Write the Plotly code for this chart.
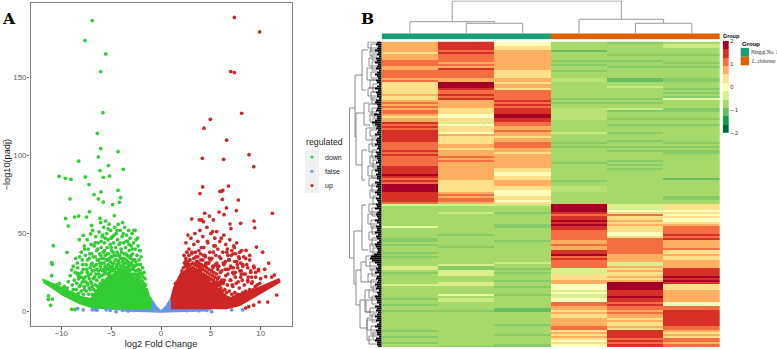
import plotly.graph_objects as go

W, H = 777, 349

# ---------- Panel A data: isolated points
down_x = [-6.89,-7.63,-5.55,-6.05,-5.82,-6.39,-6.05,-4.31,-6.29,-8.26,-5.28,-6.12,-3.78,-10.23,-9.6,-9.03,-7.59,-5.79,-5.15,-7.22,-4.31,-6.02,-6.72,-4.05,-9.13,-6.29,-5.79,-4.85,-4.18,-7.16,-4.68,-9.57,-8.66,-8.26,-7.46,-6.12,-9.3,-6.96,-8.19,-7.06,-10.8,-9.43,-7.79,-10.97,-10.9,-8.96,-10.97,-11.3,-11.3,-10.9,-11.07,-8.96,-8.63,-8.46,-8.3,
 -8.4,-8.2,-8.0,-7.9,-7.8,-7.7,-7.6,-7.5,-7.4,-7.3,-7.2,-7.1,-7.0,-6.95,-6.9,-6.85,-6.8,-6.7,-6.6,-6.55,-6.5,-6.45,-6.4,-6.3,-6.25,-6.2,-6.15,-6.1,-6.05,-6,-5.95,-5.9,-5.85,-5.8,-5.75,-5.7,-5.65,-5.6,-5.55,-5.5,-5.45,-5.4,-5.35,-5.3,-5.25,-5.2,-5.15,-5.1,-5.05,-5,-4.95,-4.9,-4.85,-4.8,-4.75,-4.7,-4.65,-4.6,-4.55,-4.5,-4.45,-4.4,-4.35,-4.3,-4.25,-4.2,-4.15,-4.1,-4.05,-4,-3.95,-3.9,-3.85,-3.8,-3.75,-3.7,-3.65,-3.6,-3.55,-3.5,-3.45,-3.4,-3.35,-3.3,-3.25,-3.2,-3.15,-3.1,-3.05,-3,-2.95,-2.9,-2.85,-2.8,-2.75,-2.7,-2.65,-2.6,-2.55,-2.5,-2.45,-2.4,-2.3,-2.25,-2.2,-2.15,-2.1,-2.05,-2,-1.9,-1.85,-1.8,-1.7,-1.6,
 -10.5,-10.2,-9.7,-9.4,-8.8,-9.0,-8.3,-8.0,-7.8,-7.4,-7.2,-6.9,-7.7]
down_y = [186.7,173.9,165.3,154,127.6,114.3,104.5,102.6,99.1,96.4,93.6,90.4,91.2,86.7,85.4,84.8,86.3,86.1,86.9,81.4,77.7,76.7,74.9,73,72.2,72.2,70.2,68.5,70,64,61.5,59.7,60.6,61.2,60.6,59.7,54.8,55.2,46,49.7,42.2,37.9,48.8,31.3,30.2,26.6,22.9,9.9,7.7,7.9,3.9,1.3,1.3,24.4,24.2,
 31,24,38,33,27,42,36,30,46,40,34,28,43,37,31,52,26,42,35,48,30,39,27,44,33,51,37,29,57,41,34,48,26,38,54,31,44,36,58,28,50,41,33,46,37,56,29,43,52,35,39,31,48,27,44,36,54,33,41,50,29,38,46,56,32,43,36,52,27,40,34,48,57,30,44,37,54,28,41,33,49,36,45,30,52,39,27,47,34,42,31,50,37,28,44,52,33,40,26,46,30,36,42,27,33,39,25,30,35,24,28,22,25,21,
 17,18,16,15,14,12,23,22,19,18,15,16,14]
down_x2 = [-8.7,-8.5,-8.3,-8.2,-8.0,-7.9,-7.8,-7.7,-7.6,-7.5,-7.4,-7.35,-7.25,-7.2,-7.1,-7.05,-6.95,-6.9,-6.8,-6.75,-6.7,-6.6,-6.55,-6.5,-6.45,-6.4,-6.35,-6.3,-6.2,-6.15,-6.1,-6.05,-6,-5.95,-5.9,-5.85,-5.8,-5.75,-5.7,-5.65,-5.6,-5.55,-5.5,-5.45,-5.4,-5.35,-5.3,-5.25,-5.2,-5.15,-5.1,-5.05,-5,-4.95,-4.9,-4.85,-4.8,-4.75,-4.7,-4.65,-4.6,-4.55,-4.5,-4.45,-4.4,-4.35,-4.3,-4.25,-4.2,-4.15,-4.1,-4.05,-4,-3.95,-3.9,-3.85,-3.8,-3.75,-3.7,-3.65,-3.6,-3.55,-3.5,-3.45,-3.4,-3.35,-3.3,-3.25,-3.2,-3.15,-3.1,-3.05,-3,-2.95,-2.9,-2.85,-2.8,-2.75,-2.7,-2.65,-2.6,-2.55,-2.5,-2.45,-2.4,-2.35,-2.3,-2.25,-2.15,-2.1,-2,-1.95,-1.85,-1.75,-1.65,-1.55,-1.45,-1.35]
down_y2 = [11,14,11.5,16,13,19,11,16,22,13,25,17,11,21,14,24,18,11,21,14,29,17,24,13,20,33,16,26,22,31,18,36,27,23,31,20,34,27,24,39,29,25,33,27,37,24,30,27,34,25,32,28,41,26,35,29,38,26,31,27,36,25,33,28,30,25,36,27,31,26,34,29,25,38,27,32,25,29,34,26,31,25,37,28,26,32,25,35,29,26,31,24,36,27,30,24,33,27,22,29,24,32,21,26,23,30,21,24,22,26,20,24,19,18,16,17,14,12]
down_x3 = [-9.3,-9.1,-8.9,-8.8,-8.7,-8.6,-8.55,-8.45,-8.35,-8.25,-8.15,-8.05,-7.95,-7.85,-7.75,-7.65,-7.55,-7.45,-7.35,-7.3,-7.15,-7.05,-7,-6.9,-6.8,-6.65,-6.6,-6.5,-6.35,-6.25,-6,-5.85,-5.6,-5.3,-5,-4.7,-4.4,-4.1,-3.8,-3.5,-3.2,-2.9,-2.6,-2.35,-2.1]
down_y3 = [19,23,17,29,20,25,34,18,28,21,35,17,25,30,21,40,19,27,33,23,37,19,30,26,35,22,44,27,40,24,45,49,47,53,47,49,52,44,50,45,43,40,52,47,39]
up_x = [7.36,9.9,6.99,7.36,8.09,4.95,4.31,6.59,8.83,4.15,6.29,9.3,4.18,6.76,5.92,6.09,6.19,3.91,6.15,7.76,6.56,7.56,11.17,4.38,5.82,6.32,4.85,3.08,3.85,4.08,9.33,5.25,4.25,7.99,6.92,9.4,7.02,5.59,5.18,9.57,8.53,11.6,10.7,11.37,10.5,9.77,8.5,9.6,9.85,9.3,8.8,
 2.3,2.5,2.6,2.7,2.8,2.9,3.0,3.1,3.2,3.3,3.4,3.5,3.6,3.7,3.8,3.9,4.0,4.1,4.2,4.3,4.4,4.5,4.6,4.7,4.8,4.9,5.0,5.1,5.2,5.3,5.4,5.5,5.6,5.7,5.8,5.9,6.0,6.1,6.2,6.3,6.4,6.5,6.6,6.7,6.8,6.9,7.0,7.1,7.2,7.3,7.4,7.5,7.6,7.7,7.8,7.9,8.0,8.1,8.2,8.3,8.5,8.7,8.9,9.1,9.3,9.5,
 2.45,2.65,2.85,3.05,3.25,3.45,3.65,3.85,4.05,4.25,4.45,4.65,4.85,5.05,5.25,5.45,5.65,5.85,6.05,6.25,6.45,6.65,6.85,7.05,7.25,7.45,7.65,7.85,8.05,
 10.2,10.4,10.8,11.1,9.0,8.2,8.7]
up_y = [188.7,179.4,154,153.3,127.2,123.3,117.6,109.9,100.6,98.3,97.6,92.9,79.9,80.5,77.1,77.1,77.7,75.6,71.9,71.5,66.4,64.7,63,63,63.8,62.1,61.2,59.3,58.7,58.7,58,58.7,57.6,56.5,56.1,53.7,53.1,51.2,51.2,41.3,39.2,10.5,6,23.3,22.3,27,2.1,11.6,6,4,3,
 36,44,30,49,40,33,47,38,28,43,50,35,31,45,39,52,33,27,48,41,36,29,54,44,31,38,50,34,28,42,47,36,31,40,29,45,34,26,38,49,31,43,27,36,33,46,29,39,25,42,32,37,44,28,35,26,31,39,30,24,34,28,36,22,29,25,32,27,30,23,26,21,
 32,27,41,36,30,45,34,26,38,42,29,35,47,31,27,40,33,28,37,25,30,34,24,38,27,31,22,26,29,
 19,18,17,16,9,7,5]
up_x2 = [1.45,1.5,1.6,1.65,1.75,1.8,1.85,1.95,2.0,2.05,2.1,2.15,2.2,2.25,2.3,2.35,2.4,2.45,2.5,2.55,2.6,2.65,2.7,2.75,2.8,2.85,2.9,2.95,3,3.05,3.1,3.15,3.2,3.25,3.3,3.35,3.4,3.45,3.5,3.55,3.6,3.65,3.7,3.75,3.8,3.85,3.9,3.95,4,4.05,4.1,4.15,4.2,4.25,4.3,4.35,4.4,4.45,4.5,4.55,4.6,4.65,4.7,4.75,4.8,4.85,4.9,4.95,5,5.05,5.1,5.15,5.2,5.25,5.3,5.35,5.4,5.45,5.5,5.55,5.6,5.65,5.7,5.75,5.8,5.85,5.9,5.95,6,6.1,6.15,6.25,6.3,6.4,6.5,6.55,6.65,6.75,6.85,7,7.1,7.2,7.3,7.4,7.55,7.7,7.85,8,8.2,8.35,8.5,8.7,8.9,9.1,9.25,9.45,9.7,9.9,10.1,10.35]
up_y2 = [17,20,23,19,26,21,24,28,23,31,25,29,34,26,38,29,32,26,36,28,33,25,30,27,37,26,31,28,34,26,30,38,27,32,25,29,35,26,31,24,28,37,25,30,23,27,33,24,29,22,26,35,23,28,21,25,31,22,27,20,24,33,21,26,18,23,29,20,25,17,22,30,18,24,16,21,27,17,22,14,19,25,15,20,13,18,30,14,23,12,17,27,13,20,11,16,24,12,18,11,15,22,12,17,13,20,14,18,14,16,12,18,15,16,19,14,17,18,19,20]
up_x3 = [5.6,5.75,5.9,6.05,6.2,6.35,6.45,6.6,6.7,6.8,6.95,7.05,7.15,7.25,7.35,7.45,7.6,7.75,7.9,8.05,8.15,8.3,8.45,8.6,8.75,8.9,9.0,9.15,9.35,9.5,9.65,9.8,10.0,4.5,4.2,3.9,5.3,2.05,1.9]
up_y3 = [32,38,24,33,20,36,17,28,41,22,32,19,38,26,20,35,24,30,22,33,25,19,28,22,17,26,21,31,23,29,19,24,22,38,42,46,43,36,33]
false_x = [-8.36,-6.9,-6.6,-6.4,-5.5,-5.1,-4.5,-3.9,-3.3,-2.7,2.6,3.2,3.8,4.25,4.6,5.08,7.09,8.19,-7.8]
false_y = [1.7,1,1,0.8,1,0.6,-0.2,0.8,0.3,0.6,0.5,0.8,0.4,0.9,0.6,-0.2,1,1,1]

# ---------- Panel A data: outline of the solid mass of points
down_mass_x = [-11.9,-9.8,-8.1,-7.0,-6.5,-5.9,-5.2,-4.2,-3.2,-2.2,-1.5,-1.0,-1.0,-6.8,-8.1,-9.8,-11.8]
down_mass_y = [20.5,14.7,9.4,8,13,18,23,25,24,19,13,7.7,2,2.5,5,10.5,19]
up_mass_x = [1.0,1.3,1.8,2.5,3.5,4.5,5.5,6.5,7.0,7.6,9.3,11.8,11.9,9.6,7.9,6.6,1.0]
up_mass_y = [7.8,15,22,26,25,20,15,10,8.5,10.5,13.7,20.5,19,10.5,4,2,2]
false_mass_x = [-6.8,-1.0,-0.5,0,0.5,1.0,1.0,5.0,4.0,0,-4.0]
false_mass_y = [2,8,3,0,3,8,2,1.5,0.5,-0.3,0.5]

# ---------- Panel B data
group_names = ["Ningqi No. 1", "L. chinense"]
sample_group = [0, 0, 0, 1, 1, 1]
legend_levels = [-2, -1.6, -1.2, -0.8, -0.4, 0, 0.4, 0.8, 1.2, 1.6, 2]

col1 = ([0.8]*5+[0.4]+[0.8]*3+[1.2]*3+[0.8]*2+[1.2]*4+[0.8]+[1.2]+[0.4]*4+[0.4]*2+[0.8]+[0.4]*2+[0.8]+[1.2]+[0.8]+[1.2]+[0.8]+[1.2]*2+[0.8]+[0.4]
 +[0.8]*2+[1.6]+[1.2]+[1.6]+[1.2]+[1.6]*2+[1.6]*4+[1.2]*4+[1.6]+[1.2]+[1.6]+[1.2]*5+[1.6]*4+[2]+[1.6]+[1.2]+[1.6]+[1.2]+[2]*4+[1.6]*2
 +[1.6]*3+[1.2]+[-0.4]+[-0.8]*10+[-0.2]+[-0.8]*5+[-1.0]*2+[-0.8]+[-1.0]+[-0.8]*3+[-1.0]+[-0.8]+[-1.0]+[-0.8]*4+[-0.4]*2+[-0.8]
 +[-1.0]+[-0.8]*5+[-0.4]+[-0.8]*6+[-1.0]+[-0.8]*2+[-1.0]+[-0.8]*2+[-1.0]+[-0.8]*9+[-1.0]+[-0.8]*2+[-1.0]+[-0.8]*2+[-1.0]+[-0.8]*2)
col2 = ([1.6]*4+[1.2]+[1.6]+[1.2]*4+[0.8]+[1.2]+[0.8]+[1.6]+[1.2]+[1.2]*3+[0.8]*2+[2]*3+[1.6]+[1.2]*2+[1.6]+[1.2]+[1.6]+[0.8]*4+[0.4]*3+[0]*2
 +[0.4]*2+[-0.4]+[0]+[0.4]*3+[0]+[0.8]+[0.4]+[0.4]*3+[0.8]*2+[0.4]+[0.8]*3+[1.2]+[0.8]+[1.2]+[0.8]*9+[0.4]*6+[0.8]+[1.2]
 +[0.8]+[1.2]*2+[0.8]+[-0.4]+[-0.8]*3+[-0.5]+[-0.8]*10+[-1.0]+[-0.8]*5+[-1.0]+[-0.8]*8+[-0.4]+[-1.0]*2+[-0.4]
 +[-0.4]*2+[-0.8]*3+[-0.4]*2+[-0.8]*4+[-0.2]+[-0.8]+[-0.5]*2+[-0.8]*4+[-1.0]+[-0.8]*17+[-1.0])
col3 = ([0]*2+[0.4]*2+[0.8]+[0.8]*9+[0.4]*4+[0.8]*2+[0.4]+[0.8]*2+[0.4]+[1.2]*5+[1.6]+[1.2]+[1.6]+[1.2]+[1.6]*3+[2]*2
 +[1.6]*2+[1.2]*2+[0.8]*2+[1.2]+[0.8]+[0.8]+[0.4]+[0.8]*2+[1.2]*3+[0.8]*2+[0.4]+[0.8]*3+[0.8]*4+[0.4]*2+[0]*2+[0.4]*2+[0.8]*3+[0.4]*2+[0]*3
 +[0.4]*2+[0]+[0.4]+[-0.5]+[-0.8]*3+[-1.0]+[-0.8]*5+[-1.0]*2+[-0.8]*6+[-1.0]+[-0.8]*10+[-0.5]+[-0.8]*2+[-1.0]+[-0.8]
 +[-1.0]+[-0.8]*3+[-1.0]+[-0.8]*2+[-1.0]+[-0.8]*3+[-1.0]+[-0.8]*6+[-1.2]*2+[-0.8]*6+[-1.0]+[-0.8]*4+[-1.0]+[-0.8]*4+[-1.0]*2)
col4 = ([-0.8]*4+[-1.2]+[-0.8]*4+[-1.0]+[-0.8]+[-1.0]+[-0.8]*2+[-1.0]+[-0.8]*3+[-0.65]*2+[-0.8]*8+[-1.0]+[-0.8]+[-1.0]+[-0.8]*2+[-0.65]*5
 +[-0.65]+[-0.8]*6+[-0.5]+[-0.8]*4+[-1.0]+[-0.8]+[-1.0]+[-0.8]*7+[-1.0]+[-0.8]*8+[-1.0]+[-0.8]*2+[-0.65]*3+[-0.8]*2
 +[-0.8]*4+[2]*4+[1.6]+[1.2]+[1.6]*2+[2]+[1.6]+[2]+[1.6]*2+[1.2]*5+[0.8]*2+[1.2]+[0.8]*2+[1.6]*2+[2]+[1.2]+[1.6]+[1.2]*4+[-0.4]*2
 +[-0.4]+[0.4]*3+[0.8]*2+[0]*3+[-0.4]+[0]+[-0.4]*2+[0]*2+[1.2]*2+[0.8]*2+[0.4]+[0.8]+[0.4]*2+[0.8]+[0.8]*3+[1.2]*2+[0.4]+[0.8]+[0.4]+[0.8]+[0.4]+[0]+[0.4]+[0]*2)
col5 = ([-1.0]+[-0.8]*5+[-1.0]+[-0.8]*2+[-1.0]+[-0.8]*2+[-1.0]+[-0.8]*5+[-1.2]*2+[-0.8]*2+[-0.5]+[-0.8]*5+[-1.0]+[-0.8]+[-1.0]+[-0.8]*2+[-0.5]+[-1.0]+[-0.8]*3
 +[-1.0]+[-0.8]*2+[-1.0]+[-0.8]*3+[-1.0]+[-0.8]*3+[-1.0]+[-0.8]*2+[-1.0]+[-0.8]+[-1.0]+[-0.8]*4+[-1.0]+[-0.8]+[-1.0]+[-0.8]+[-1.0]+[-0.8]*13
 +[-0.8]*4+[-0.4]*3+[0]+[0.4]+[1.2]+[0.4]*2+[0.8]+[0.4]+[0.8]+[0.4]*3+[0]*2+[0.4]+[1.2]*8+[0.8]*4+[-0.4]*2+[0.8]+[0.4]+[0.8]
 +[0.4]*2+[0.8]+[0.4]+[0.8]+[2]*4+[1.6]*3+[2]+[1.6]*2+[1.2]+[1.6]+[1.2]*2+[0.8]+[1.2]+[0.8]*2+[0.4]+[0.8]+[0.4]*2+[0.8]+[0.4]+[1.6]*4+[1.2]+[1.6]+[1.2]+[1.6]*2)
col6 = ([-0.8]+[-0.5]*2+[-0.8]*3+[-1.0]+[-0.8]*3+[-1.0]+[-0.8]+[-1.0]+[-0.8]*5+[-1.0]*2+[-0.8]*3+[-1.0]+[-0.8]+[-1.0]+[-0.8]+[-1.0]+[-0.2]+[-0.8]*4+[-1.0]*2+[-0.8]*3
 +[-1.0]+[-0.8]*2+[-1.0]+[-0.8]*8+[-1.0]+[-0.8]+[-1.0]+[-0.8]+[-1.0]*2+[-0.8]*12+[-1.2]+[-0.8]*8
 +[-1.0]*2+[-0.8]*2+[0.4]*3+[0]+[0.4]+[0]+[0.4]+[0]*2+[0.4]+[0.8]+[1.2]*3+[1.2]+[1.6]+[1.2]+[1.6]+[0.8]*4+[1.2]+[0.4]*2+[0.8]+[0.4]*2+[0.8]*4+[1.6]*2
 +[1.6]*2+[2]+[1.6]+[2]+[1.6]+[0.4]*3+[0.8]*6+[0]*2+[1.2]*2+[1.6]*2+[1.6]*6+[1.2]*2+[0.8]+[0.4]+[0.8]+[0.4]+[1.2]*2+[0.8]+[1.2]*2)

# column dendrogram: (left column, right column, merge height, left child height, right child height)
col_merges = [(1, 2, 30, 0, 0), (0, 1.5, 35, 0, 30), (4, 5, 30, 0, 0), (3, 4.5, 42, 0, 30), (0.75, 3.75, 97, 35, 42)]
# row dendrogram, main branches: (parent depth, top row, bottom row, top child depth, bottom child depth)
row_branches = [(349.5,108,258,355,354),(355,75,137,362,356),(362,50,90,368,366),(356,113,165,364,362),(364,103,125,369,370),(362,150,180,367,365),
 (354,231,284,362,356),(362,205,250,366,368),(356,270,305,361,360),(361,262,282,366,368),(360,300,328,365,367),(365,290,312,370,371),(367,318,340,371,372)]
# row dendrogram, small branches: (parent depth, top row, bottom row)
twig_d = [368,371,370,372,369,372,367,371,370,373,368,371,372,369,372,370,373,366,370,372,369,372,370,373,368,372,369,372,370,373,369,372,368,371,372,369,372,370,373,366,370,372,368,371,373,369,372,366,370,372,367,371,373,369]
twig_a = [42,44,50,54,58,62,68,72,80,84,88,92,98,104,108,114,118,128,130,138,144,150,156,160,166,170,178,184,190,196,204,208,214,220,226,232,238,244,248,256,262,268,274,280,286,290,296,300,308,314,320,326,332,336]
twig_b = [48,52,56,60,66,70,80,78,88,92,96,100,104,112,116,122,126,140,136,146,152,158,164,168,176,178,186,192,198,204,212,216,224,228,234,240,246,252,256,266,270,276,282,288,292,298,304,312,316,322,330,334,340,344]
# depth where each of the 153 row leaves starts
leaf_depth = [377,376,378,377,375,378,377,379,376,377,375,378,377,376,379,377,375,377,378,376,377,379,377,375,378,376,377,377,379,376,375,377,378,377,376,379,374,377,377,375,
 372,375,377,376,378,377,375,379,377,376,377,375,378,377,379,376,377,375,377,378,376,379,377,377,375,378,376,377,377,379,375,377,376,378,377,375,377,379,376,377,
 378,376,377,375,379,377,376,377,378,375,377,379,376,377,377,375,378,376,377,379,377,375,376,377,378,377,374,371,370,372,375,377,378,376,377,375,379,377,376,378,
 377,375,377,376,379,377,378,375,376,377,377,379,375,377,376,378,377,375,377,376,379,377,375,378,376,377,377,379,376,375,377,377,378]

# ---------- Colours
colors = ["#006837","#1a9850","#66bd63","#a6d96a","#d9ef8b","#ffffbf","#fee08b","#fdae61","#f46d43","#d73027","#a50026"]
smooth_scale = [[i/10, c] for i, c in enumerate(colors)]
GREEN, BLUE, RED = "#32CD32", "#6495ED", "#CD2626"
TEAL, ORANGE = "#1b9e77", "#e06000"

def dx(a, b): return [a/W, b/W]
def dy(top, bottom): return [1-bottom/H, 1-top/H]
def pad(col): return (col + [col[-1]]*153)[:153]

fig = go.Figure()

# ---------- Panel A
def mass(x, y, c, name):
    fig.add_trace(go.Scatter(x=x, y=y, mode="lines", fill="toself", fillcolor=c, line=dict(color=c, width=2), name=name,
                             showlegend=False, hoverinfo="skip", xaxis="x", yaxis="y"))
def pts(x, y, c, name):
    fig.add_trace(go.Scatter(x=x, y=y, mode="markers", marker=dict(color=c, size=3.7, line=dict(width=0)), name=name,
                             showlegend=False, xaxis="x", yaxis="y"))
mass(false_mass_x, false_mass_y, BLUE, "false")
pts(false_x, false_y, BLUE, "false")
mass(down_mass_x, down_mass_y, GREEN, "down")
pts(down_x + down_x2 + down_x3, down_y + down_y2 + down_y3, GREEN, "down")
mass(up_mass_x, up_mass_y, RED, "up")
pts(up_x + up_x2 + up_x3, up_y + up_y2 + up_y3, RED, "up")

# ---------- Panel B heatmap
fig.add_trace(go.Heatmap(z=[list(r) for r in zip(pad(col1),pad(col2),pad(col3),pad(col4),pad(col5),pad(col6))],
    zmin=-2, zmax=2, colorscale=smooth_scale, showscale=False, xaxis="x2", yaxis="y2", hoverinfo="z"))
# annotation bar
fig.add_trace(go.Heatmap(z=[sample_group], zmin=0, zmax=1, colorscale=[[0,TEAL],[0.5,TEAL],[0.5,ORANGE],[1,ORANGE]],
    showscale=False, xaxis="x3", yaxis="y3", hoverinfo="skip"))
# stepped colour key
fig.add_trace(go.Heatmap(z=[[v] for v in legend_levels], x=[0], y=[-2 + (i + 0.5)*4/11 for i in range(11)], zmin=-2, zmax=2,
    colorscale=smooth_scale, showscale=False, xaxis="x6", yaxis="y6", hoverinfo="z"))
# column dendrogram
xs, ys = [], []
for l, r, h, hl, hr in col_merges:
    xs += [l, l, r, r, None]; ys += [hl, h, h, hr, None]
fig.add_trace(go.Scatter(x=xs, y=ys, mode="lines", line=dict(color="#9a9a9a", width=1), showlegend=False, hoverinfo="skip", xaxis="x4", yaxis="y4"))
# row dendrogram
xs, ys = [], []
for p, a, b, ca, cb in row_branches:
    xs += [ca, p, p, cb, None]; ys += [a, a, b, b, None]
for p, a, b in zip(twig_d, twig_a, twig_b):
    xs += [377, p, p, 377, None]; ys += [a, a, b, b, None]
fig.add_trace(go.Scatter(x=xs, y=ys, mode="lines", line=dict(color="#707070", width=0.8), showlegend=False, hoverinfo="skip", xaxis="x5", yaxis="y5"))
xs, ys = [], []
for i, d in enumerate(leaf_depth):
    y = 42.5 + 2*i
    xs += [d, 381.7, None]; ys += [y, y, None]
fig.add_trace(go.Scatter(x=xs, y=ys, mode="lines", line=dict(color="#000000", width=2.1), showlegend=False, hoverinfo="skip", xaxis="x5", yaxis="y5"))

# ---------- Layout helpers
TXT = "Liberation Sans"
ann = []
def text(x, y, s, size, color="#000000", family=TXT, anchor="left"):
    ann.append(dict(xref="paper", yref="paper", x=x/W, y=1-y/H, text=s, showarrow=False, xanchor=anchor, yanchor="middle",
                    font=dict(family=family, size=size, color=color), borderpad=0))
shapes = []
def rect(x0, y0, x1, y1, c):
    shapes.append(dict(type="rect", xref="paper", yref="paper", x0=x0/W, x1=x1/W, y0=1-y0/H, y1=1-y1/H, fillcolor=c, line=dict(width=0), layer="below"))
def dot(cx, cy, c):
    shapes.append(dict(type="circle", xref="paper", yref="paper", x0=(cx-1.6)/W, x1=(cx+1.6)/W, y0=1-(cy-1.6)/H, y1=1-(cy+1.6)/H, fillcolor=c, line=dict(width=0)))

text(0.5, 18.5, "<b>A</b>", 15.5, family="DejaVu Serif")
text(360, 18.5, "<b>B</b>", 15.5, family="DejaVu Serif")
text(305, 142, "regulated", 8.8, "#1a1a1a")
rect(305, 150, 319, 193, "#f0f0f0")
for cy, c, s in [(157, GREEN, "down"), (171.3, BLUE, "false"), (185.6, RED, "up")]:
    dot(312, cy, c)
    text(324, cy, s, 7, "#1a1a1a")
text(722, 35.5, "<b>Group</b>", 5.4)
text(740.7, 43.7, "<b>Group</b>", 6)
rect(740.7, 48, 749, 56.7, TEAL)
rect(740.7, 56.7, 749, 65.3, ORANGE)
text(750, 52.3, group_names[0], 5.2, "#222222", family="Liberation Serif")
text(750, 61, "<i>" + group_names[1] + "</i>", 5.2, "#222222", family="Liberation Serif")

hidden = dict(visible=False, showgrid=False, zeroline=False)
axis_a = dict(showline=True, mirror=True, linecolor="#808080", linewidth=1.2, ticks="outside", ticklen=2.5, tickwidth=0.8, tickcolor="#5a5a5a",
              showgrid=False, zeroline=False, tickfont=dict(family=TXT, size=7.8, color="#5a5a5a"), automargin=False)
fig.update_layout(
    width=W, height=H, margin=dict(l=0, r=0, t=0, b=0), autosize=False, paper_bgcolor="white", plot_bgcolor="white", showlegend=False,
    xaxis=dict(axis_a, domain=dx(30.5, 291.5), range=[-13.09, 13.09], tickvals=[-10,-5,0,5,10], ticklabelstandoff=-3,
               title=dict(text="log2 Fold Change", standoff=5, font=dict(family=TXT, size=9.2, color="#1a1a1a"))),
    yaxis=dict(axis_a, domain=dy(3.3, 326), range=[-9.4, 197.8], tickvals=[0,50,100,150], ticklabelstandoff=-1,
               title=dict(text="−log10(padj)", standoff=1, font=dict(family=TXT, size=9.2, color="#1a1a1a"))),
    xaxis2=dict(hidden, domain=dx(381.7, 720), range=[-0.5, 5.5]),
    yaxis2=dict(hidden, domain=dy(41.5, 347), range=[152.5, -0.5]),
    xaxis3=dict(hidden, domain=dx(381.7, 720), range=[-0.5, 5.5]),
    yaxis3=dict(hidden, domain=dy(33.3, 39.5), range=[-0.5, 0.5]),
    xaxis4=dict(hidden, domain=dx(381.7, 720), range=[-0.5, 5.5]),
    yaxis4=dict(hidden, domain=dy(0.5, 33.3), range=[0, 98.5]),
    xaxis5=dict(hidden, domain=dx(345, 381.7), range=[345, 381.7]),
    yaxis5=dict(hidden, domain=dy(41.5, 347), range=[347, 41.5]),
    xaxis6=dict(hidden, domain=dx(722.7, 729), range=[-0.5, 0.5]),
    yaxis6=dict(domain=dy(41, 132.7), range=[-2, 2], side="right", anchor="x6", tickvals=[-2,-1,0,1,2], ticks="", showgrid=False, zeroline=False,
                showline=False, tickfont=dict(family="DejaVu Sans", size=5.6, color="#333333"), automargin=False),
    annotations=ann, shapes=shapes)

fig.write_html("out.html", config={"displayModeBar": False},
               post_script="document.body.style.margin='0';document.body.style.overflow='hidden';")
